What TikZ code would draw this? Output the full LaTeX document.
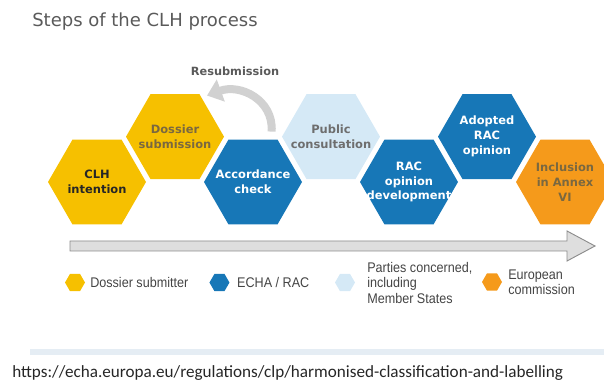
\documentclass[tikz,border=0pt]{standalone}
\usepackage{fontspec}
\setmainfont{DejaVu Sans}
\newfontfamily\legendfont[FakeStretch=0.9]{Liberation Sans}
\newfontfamily\linkfont{Carlito}
\usepackage{xcolor}
\usepackage{tikz}
\usetikzlibrary{arrows.meta,positioning,shapes.geometric}
\definecolor{clhyellow}{HTML}{F6C000}
\definecolor{clhblue}{HTML}{1777B7}
\definecolor{clhlight}{HTML}{D5E9F6}
\definecolor{clhorange}{HTML}{F59A1B}
\definecolor{clhbrown}{HTML}{7A6840}
\definecolor{hexgray}{HTML}{6E6E6E}
\definecolor{titlegray}{HTML}{5A5A5A}
\definecolor{legendgray}{HTML}{444444}
\definecolor{rulecolor}{HTML}{E5EDF4}
\tikzset{
  hexbox/.style={regular polygon, regular polygon sides=6, minimum size=73.5pt, inner sep=-14pt, outer sep=0pt, align=center, font=\bfseries\fontsize{8.6}{11.2}\selectfont},
  hexY/.style={hexbox, fill=clhyellow, text=clhbrown},
  hexB/.style={hexbox, fill=clhblue, text=white},
  hexL/.style={hexbox, fill=clhlight, text=hexgray},
  hexO/.style={hexbox, fill=clhorange, text=clhbrown},
  legbox/.style={regular polygon, regular polygon sides=6, minimum size=15pt, inner sep=0pt, outer sep=0pt},
  legtext/.style={inner sep=0pt, align=left, text=legendgray, font=\legendfont\fontsize{10.5}{11.6}\selectfont},
  resub/.style={-{Triangle[length=11pt,width=17pt]}, line width=6pt, draw=black!18},
  timeline/.style={fill=black!13, draw=black!45, line width=0.7pt}
}

\begin{document}
\begin{tikzpicture}[x=1pt,y=1pt]
\useasboundingbox (0,0) rectangle (453,-285.75);
\node[anchor=base west, inner sep=0pt, text=titlegray, font=\fontsize{13.5}{16}\selectfont] (title) at (24,-20.25) {Steps of the CLH process};

\node[hexY, text=black!85] (int) at (72.75,-136.5) {CLH\\intention};
\node[hexY, on grid, above right=34pt and 58.5pt of int] (dos) {Dossier\\submission};
\node[hexB, on grid, below right=34pt and 58.5pt of dos] (acc) {Accordance\\check};
\node[hexL, on grid, above right=34pt and 58.5pt of acc] (pub) {Public\\consultation};
\node[hexB, on grid, below right=34pt and 58.5pt of pub] (rac) {RAC\\opinion\\development};
\node[hexB, on grid, above right=34pt and 58.5pt of rac] (ado) {Adopted\\RAC\\opinion};
\node[hexO, on grid, below right=34pt and 58.5pt of ado] (inc) {Inclusion\\in Annex\\VI};

\node[font=\bfseries\fontsize{8.5}{10}\selectfont, text=titlegray] (resubtxt) at (176.25,-53.25) {Resubmission};
\draw[resub] ([shift={(14pt,6pt)}]acc.north) .. controls +(1.5pt,24pt) and +(24.75pt,9pt) .. ([shift={(24pt,-1pt)}]dos.north);

\draw[timeline] (52.5,-180.75) -- (425.25,-180.75) -- (425.25,-173.25) -- (446.25,-184.5) -- (425.25,-195.75) -- (425.25,-188.25) -- (52.5,-188.25) -- cycle;

\node[legbox, fill=clhyellow] (lgsub) at (56.25,-211.9) {};
\node[legtext, right=3.75pt of lgsub] (txsub) {Dossier submitter};
\node[legbox, fill=clhblue] (lgecha) at (164.6,-211.9) {};
\node[legtext, right=5.6pt of lgecha] (txecha) {ECHA / RAC};
\node[legbox, fill=clhlight] (lgpart) at (258.75,-211.9) {};
\node[legtext, right=9pt of lgpart] (txpart) {Parties concerned,\\including\\Member States};
\node[legbox, fill=clhorange] (lgcom) at (369,-211.5) {};
\node[legtext, right=4.5pt of lgcom] (txcom) {European\\commission};

\draw[line width=3.75pt, draw=rulecolor] (22.5,-264) -- (453,-264);
\node[anchor=west, inner sep=0pt, font=\linkfont\fontsize{12.85}{15}\selectfont, text=black!85] (link) at (9,-279.75) {https://echa.europa.eu/regulations/clp/harmonised-classification-and-labelling};
\end{tikzpicture}
\end{document}
